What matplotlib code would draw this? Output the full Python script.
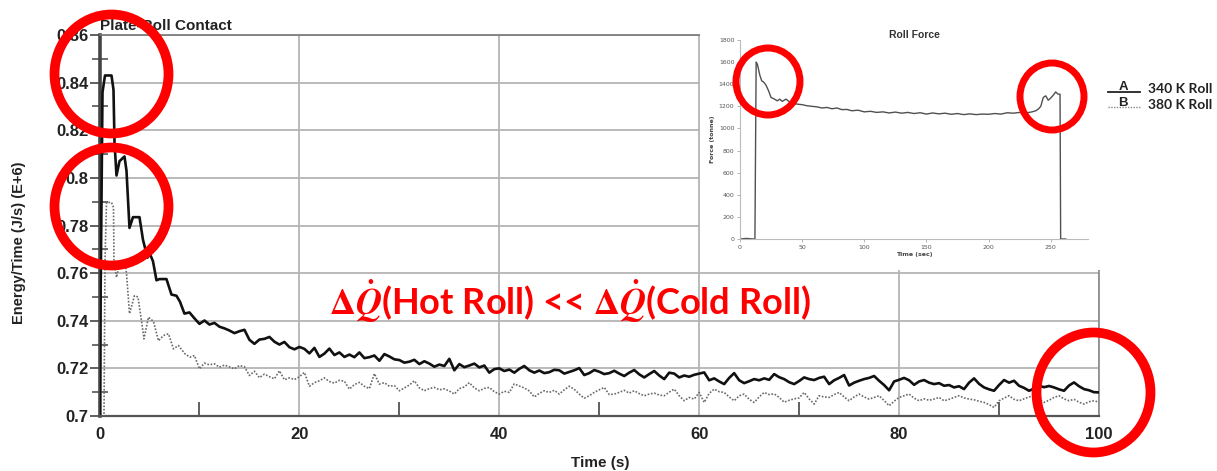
import matplotlib
matplotlib.use("Agg")
import matplotlib.pyplot as plt
from matplotlib.patches import Ellipse, Rectangle
from matplotlib.lines import Line2D
from matplotlib.ticker import MultipleLocator

# ---------------- data ----------------
# 340 K roll (solid): start-up transient, irregular time stamps
t_cold_start = [0.0, 0.3, 0.55, 1.2, 1.4, 1.5, 1.7, 2.0, 2.5, 2.7, 3.0, 3.35, 4.0, 4.35,
                4.8, 5.05, 5.35, 5.7, 6.0, 6.7, 7.2, 7.7, 8.05, 8.5, 9.0, 9.5]
q_cold_start = [0.700, 0.836, 0.843, 0.843, 0.837, 0.815, 0.801, 0.807, 0.809, 0.803,
                0.779, 0.7835, 0.7835, 0.774, 0.7665, 0.768, 0.765, 0.757, 0.7575, 0.7575,
                0.751, 0.7505, 0.748, 0.743, 0.7435, 0.741]
# 340 K roll (solid): every 0.5 s from 10 s to 100 s
q_cold_tail = [
    0.7387, 0.7401, 0.7384, 0.7391, 0.7375, 0.7368, 0.7359, 0.7348, 0.7356, 0.7362,
    0.7320, 0.7303, 0.7321, 0.7324, 0.7332, 0.7312, 0.7300, 0.7311, 0.7289, 0.7280,
    0.7290, 0.7282, 0.7263, 0.7286, 0.7248, 0.7262, 0.7283, 0.7256, 0.7267, 0.7248,
    0.7258, 0.7247, 0.7267, 0.7243, 0.7247, 0.7254, 0.7232, 0.7260, 0.7250, 0.7238,
    0.7235, 0.7224, 0.7228, 0.7236, 0.7218, 0.7230, 0.7220, 0.7207, 0.7216, 0.7210,
    0.7240, 0.7192, 0.7218, 0.7205, 0.7212, 0.7220, 0.7204, 0.7212, 0.7182, 0.7197,
    0.7200, 0.7189, 0.7195, 0.7182, 0.7198, 0.7210, 0.7192, 0.7182, 0.7191, 0.7180,
    0.7184, 0.7194, 0.7192, 0.7178, 0.7185, 0.7192, 0.7201, 0.7172, 0.7180, 0.7193,
    0.7186, 0.7176, 0.7180, 0.7190, 0.7178, 0.7168, 0.7182, 0.7193, 0.7175, 0.7162,
    0.7176, 0.7189, 0.7170, 0.7155, 0.7182, 0.7178, 0.7162, 0.7170, 0.7165, 0.7173,
    0.7178, 0.7183, 0.7150, 0.7158, 0.7145, 0.7134, 0.7160, 0.7180, 0.7150, 0.7138,
    0.7146, 0.7155, 0.7150, 0.7158, 0.7152, 0.7176, 0.7163, 0.7155, 0.7142, 0.7134,
    0.7147, 0.7162, 0.7155, 0.7151, 0.7160, 0.7165, 0.7134, 0.7150, 0.7160, 0.7172,
    0.7128, 0.7140, 0.7148, 0.7155, 0.7160, 0.7168, 0.7148, 0.7130, 0.7108, 0.7145,
    0.7152, 0.7160, 0.7150, 0.7131, 0.7145, 0.7151, 0.7140, 0.7134, 0.7138, 0.7127,
    0.7130, 0.7120, 0.7125, 0.7113, 0.7140, 0.7158, 0.7135, 0.7120, 0.7112, 0.7106,
    0.7130, 0.7151, 0.7140, 0.7148, 0.7127, 0.7118, 0.7106, 0.7115, 0.7127, 0.7121,
    0.7126, 0.7120, 0.7112, 0.7106, 0.7128, 0.7141, 0.7125, 0.7113, 0.7108, 0.7100,
    0.7099]

# 380 K roll (dotted): start-up transient
t_hot_start = [0.0, 0.45, 0.55, 0.7, 1.2, 1.4, 1.45, 1.7, 2.0, 2.5, 2.7, 3.0, 3.5, 3.85,
               4.2, 4.45, 4.9, 5.4, 5.9, 6.4, 6.9, 7.4, 7.9, 8.55, 9.05, 9.5]
q_hot_start = [0.700, 0.700, 0.765, 0.7897, 0.7897, 0.7876, 0.765, 0.7582, 0.764, 0.7655,
               0.760, 0.743, 0.7505, 0.750, 0.740, 0.7324, 0.7415, 0.7397, 0.7316, 0.7338,
               0.7345, 0.7282, 0.7296, 0.7261, 0.7247, 0.7254]
# 380 K roll (dotted): every 0.5 s from 10 s to 100 s
q_hot_tail = [
    0.7198, 0.7222, 0.7215, 0.7219, 0.7205, 0.7214, 0.7206, 0.7198, 0.7212, 0.7207,
    0.7170, 0.7188, 0.7161, 0.7176, 0.7165, 0.7156, 0.7190, 0.7152, 0.7160, 0.7153,
    0.7165, 0.7183, 0.7125, 0.7140, 0.7148, 0.7160, 0.7145, 0.7138, 0.7150, 0.7146,
    0.7113, 0.7132, 0.7141, 0.7125, 0.7115, 0.7178, 0.7134, 0.7140, 0.7125, 0.7128,
    0.7106, 0.7118, 0.7130, 0.7148, 0.7118, 0.7106, 0.7115, 0.7120, 0.7110, 0.7114,
    0.7105, 0.7092, 0.7115, 0.7122, 0.7140, 0.7118, 0.7106, 0.7116, 0.7120, 0.7102,
    0.7092, 0.7104, 0.7099, 0.7135, 0.7126, 0.7118, 0.7105, 0.7080, 0.7095, 0.7106,
    0.7099, 0.7108, 0.7092, 0.7110, 0.7125, 0.7112, 0.7092, 0.7075, 0.7085, 0.7099,
    0.7110, 0.7120, 0.7090, 0.7092, 0.7099, 0.7108, 0.7096, 0.7106, 0.7094, 0.7085,
    0.7092, 0.7096, 0.7088, 0.7085, 0.7100, 0.7113, 0.7085, 0.7064, 0.7078, 0.7071,
    0.7099, 0.7057, 0.7095, 0.7113, 0.7102, 0.7099, 0.7080, 0.7064, 0.7085, 0.7092,
    0.7070, 0.7057, 0.7080, 0.7099, 0.7090, 0.7093, 0.7078, 0.7058, 0.7066, 0.7072,
    0.7076, 0.7099, 0.7072, 0.7050, 0.7085, 0.7080, 0.7078, 0.7090, 0.7099, 0.7080,
    0.7064, 0.7080, 0.7092, 0.7080, 0.7071, 0.7078, 0.7085, 0.7065, 0.7043, 0.7062,
    0.7078, 0.7085, 0.7092, 0.7075, 0.7064, 0.7072, 0.7066, 0.7071, 0.7078, 0.7064,
    0.7070, 0.7078, 0.7085, 0.7076, 0.7071, 0.7068, 0.7062, 0.7057, 0.7048, 0.7036,
    0.7064, 0.7075, 0.7085, 0.7070, 0.7064, 0.7072, 0.7080, 0.7085, 0.7070, 0.7057,
    0.7066, 0.7078, 0.7085, 0.7072, 0.7064, 0.7070, 0.7058, 0.7050, 0.7060, 0.7064,
    0.7058]

# Roll force history (inset)
t_force = [0, 5, 11, 12, 13, 14, 16, 17.5, 19, 21, 23, 25, 27, 30, 32, 34, 37, 40, 43, 46,
           50, 54, 58, 62, 66, 70, 74, 78, 82, 86, 90, 95, 100, 105, 110, 115, 120, 125, 130,
           135, 140, 145, 150, 155, 160, 165, 170, 175, 180, 185, 190, 195, 200, 205, 210,
           215, 220, 225, 230, 235, 238, 240, 242, 244, 246, 248, 250, 252, 254, 256, 257.5,
           258, 262]
force = [0, 5, 0, 0, 1600, 1580, 1480, 1430, 1420, 1390, 1340, 1280, 1270, 1250, 1265, 1245,
         1265, 1240, 1230, 1220, 1215, 1205, 1200, 1195, 1185, 1190, 1178, 1185, 1170, 1172,
         1160, 1165, 1150, 1155, 1145, 1150, 1140, 1148, 1138, 1145, 1135, 1142, 1130, 1140,
         1132, 1138, 1128, 1135, 1125, 1132, 1125, 1130, 1128, 1135, 1130, 1142, 1138, 1145,
         1140, 1150, 1160, 1175, 1200, 1280, 1295, 1255, 1275, 1300, 1330, 1310, 1310, 0, 0]

series_names = ["340 K Roll", "380 K Roll"]
series_tags = ["A", "B"]
main_title = "Plate-Roll Contact"
inset_title = "Roll Force"
claim = r"$\Delta\dot{Q}$(Hot Roll) << $\Delta\dot{Q}$(Cold Roll)"

# sample grid of the steady part (0.5 s spacing)
t_tail = [10 + 0.5 * i for i in range(len(q_cold_tail))]
t_cold = t_cold_start + t_tail
q_cold = q_cold_start + q_cold_tail
t_hot = t_hot_start + t_tail
q_hot = q_hot_start + q_hot_tail

# ---------------- figure ----------------
W, H, DPI = 1217, 471, 100
plt.rcParams["mathtext.fontset"] = "custom"
plt.rcParams["mathtext.rm"] = "STIXGeneral:bold"
plt.rcParams["mathtext.it"] = "STIXGeneral:italic:bold"
plt.rcParams["mathtext.bf"] = "STIXGeneral:bold"
fig = plt.figure(figsize=(W / DPI, H / DPI), dpi=DPI)
fig.patch.set_facecolor("white")

SANS = "Liberation Sans"
ax = fig.add_axes([99.5 / W, 1 - 416 / H, 999.5 / W, 381 / H])
ax.plot(t_cold, q_cold, color="#111111", lw=1.9, zorder=3)
ax.plot(t_hot, q_hot, color="#6a6a6a", lw=1.2, ls=(0, (1, 1)), zorder=3)
ax.set_xlim(0, 100)
ax.set_ylim(0.7, 0.86)
ax.xaxis.set_major_locator(MultipleLocator(20))
ax.xaxis.set_minor_locator(MultipleLocator(10))
ax.yaxis.set_minor_locator(MultipleLocator(0.01))
ax.set_yticks([0.7, 0.72, 0.74, 0.76, 0.78, 0.8, 0.82, 0.84, 0.86])
ax.set_yticklabels(["0.7", "0.72", "0.74", "0.76", "0.78", "0.8", "0.82", "0.84", "0.86"])
ax.grid(True, which="major", color="#b4b4b4", lw=1.3, zorder=0)
ax.tick_params(axis="y", which="major", direction="out", length=7, width=1.2,
               color="#444444", pad=1, labelsize=12)
ax.tick_params(axis="y", which="minor", direction="inout", length=12, width=1.2,
               color="#555555")
ax.tick_params(axis="x", which="major", length=0, pad=8, labelsize=12)
ax.tick_params(axis="x", which="minor", direction="in", length=10, width=1.2,
               color="#444444")
for lab in ax.get_xticklabels() + ax.get_yticklabels():
    lab.set_fontfamily(SANS)
    lab.set_fontweight("bold")
    lab.set_color("#222222")
ax.spines["left"].set_color("#444444")
ax.spines["left"].set_linewidth(2.6)
ax.spines["bottom"].set_color("#555555")
ax.spines["bottom"].set_linewidth(1.6)
ax.spines["top"].set_color("#777777")
ax.spines["top"].set_linewidth(1.2)
ax.spines["right"].set_color("#888888")
ax.spines["right"].set_linewidth(1.2)

fig.text(100 / W, 1 - 30 / H, main_title, family=SANS, weight="bold", fontsize=11,
         color="#222222", ha="left", va="baseline")
fig.text(19 / W, 1 - 243 / H, "Energy/Time (J/s) (E+6)", family=SANS, weight="bold",
         fontsize=10.5, rotation=90, ha="center", va="center", color="#222222")
fig.text(600 / W, 1 - 463 / H, "Time (s)", family=SANS, weight="bold", fontsize=11,
         ha="center", va="center", color="#222222")

fig.text(570 / W, 1 - 301 / H, claim, family="Lato", weight="bold", fontsize=26,
         color="#ff0000", ha="center", va="center")

# ---------------- inset: roll force ----------------
fig.add_artist(Rectangle((700 / W, 1 - 270 / H), 404 / W, 252 / H,
                         transform=fig.transFigure, facecolor="white",
                         edgecolor="none", zorder=1))
axi = fig.add_axes([740 / W, 1 - 239 / H, 348 / W, 199 / H], zorder=2)
axi.plot(t_force, force, color="#505050", lw=1.0)
axi.set_xlim(0, 280)
axi.set_ylim(0, 1800)
axi.set_xticks([0, 50, 100, 150, 200, 250])
axi.set_yticks(range(0, 1801, 200))
axi.tick_params(labelsize=4.5, labelcolor="#555555", length=2, width=0.6,
                color="#aaaaaa", pad=2)
for s in ("top", "right"):
    axi.spines[s].set_visible(False)
for s in ("left", "bottom"):
    axi.spines[s].set_color("#bbbbbb")
    axi.spines[s].set_linewidth(0.8)
axi.set_title(inset_title, family=SANS, weight="bold", fontsize=7.5, color="#333333",
              pad=-5)
axi.set_xlabel("Time (sec)", fontsize=4.5, color="#444444", labelpad=2, weight="bold")
axi.set_ylabel("Force (tonne)", fontsize=4.5, color="#444444", labelpad=3, weight="bold")

# ---------------- legend ----------------
fig.add_artist(Line2D([1108 / W, 1140 / W], [1 - 92 / H, 1 - 92 / H],
                      transform=fig.transFigure, color="#222222", lw=1.3))
fig.add_artist(Line2D([1108 / W, 1140 / W], [1 - 107 / H, 1 - 107 / H],
                      transform=fig.transFigure, color="#888888", lw=1.0, ls=(0, (1, 1))))
for tag, name, y in zip(series_tags, series_names, [87, 103]):
    fig.text(1123 / W, 1 - y / H, tag, family=SANS, weight="bold", fontsize=9.5,
             ha="center", va="center", color="#222222")
    fig.text(1148 / W, 1 - (y + 2) / H, name, family="Lato", weight="bold",
             fontsize=10, ha="left", va="center", color="#222222")

# ---------------- highlight rings ----------------
def ring(cx, cy, w, h, lw):
    fig.add_artist(Ellipse((cx / DPI, (H - cy) / DPI), w / DPI, h / DPI,
                           transform=fig.dpi_scale_trans, fill=False,
                           edgecolor="#ff0000", lw=lw, zorder=10))

ring(111.5, 74, 114, 119, 7.0)
ring(111.5, 206.5, 114, 118, 7.0)
ring(768, 81.5, 64, 67, 5.0)
ring(1052, 96.5, 64, 67, 5.0)
ring(1093.5, 392.5, 114, 120, 7.0)

fig.savefig("out.png", dpi=DPI, facecolor="white")
